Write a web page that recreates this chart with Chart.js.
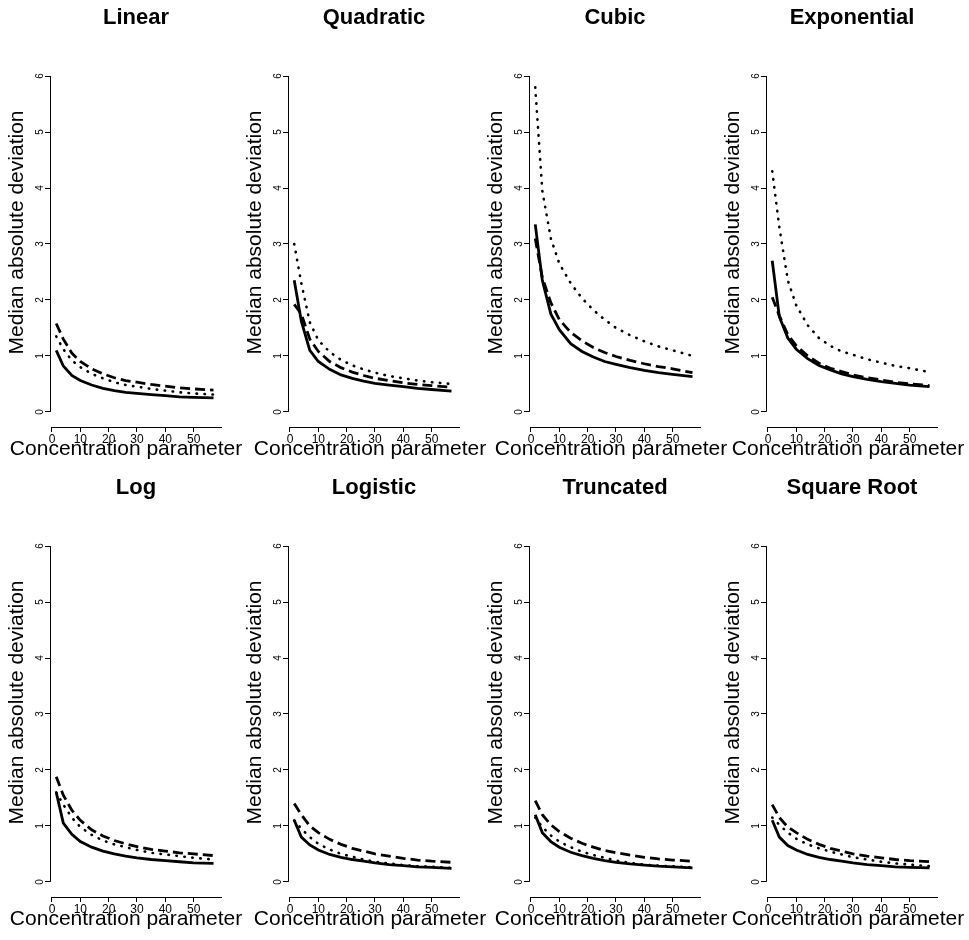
<!DOCTYPE html>
<html>
<head>
<meta charset="utf-8">
<script src="https://cdn.jsdelivr.net/npm/chart.js@4"></script>
<style>
  body { margin: 0; background: #fff; }
  #wrap { position: relative; width: 969px; height: 940px; overflow: hidden; }
  #wrap canvas { position: absolute; }
</style>
</head>
<body>
<div id="wrap"></div>
<script>
// concentration parameter values (x) shared by every curve
const concentration = [1.5, 4, 7, 10, 14, 18, 22, 26, 30, 35, 40, 45, 50, 57];
const xTickValues = [0, 10, 20, 30, 40, 50];
const yTickValues = [0, 1, 2, 3, 4, 5, 6];
const panelTitles = ["Linear", "Quadratic", "Cubic", "Exponential", "Log", "Logistic", "Truncated", "Square Root"];
const xAxisTitle = "Concentration parameter";
const yAxisTitle = "Median absolute deviation";

// median absolute deviation, one array per panel and line type
const linearSolid  = [1.10, 0.82, 0.65, 0.56, 0.48, 0.42, 0.38, 0.35, 0.33, 0.31, 0.29, 0.27, 0.26, 0.25];
const linearDashed = [1.58, 1.30, 1.05, 0.90, 0.77, 0.68, 0.61, 0.56, 0.53, 0.49, 0.46, 0.43, 0.41, 0.39];
const linearDotted = [1.35, 1.12, 0.92, 0.80, 0.68, 0.60, 0.53, 0.48, 0.45, 0.41, 0.38, 0.35, 0.33, 0.31];

const quadSolid  = [2.35, 1.62, 1.10, 0.90, 0.76, 0.66, 0.60, 0.55, 0.51, 0.48, 0.45, 0.42, 0.40, 0.37];
const quadDashed = [1.92, 1.75, 1.30, 1.08, 0.90, 0.79, 0.71, 0.65, 0.60, 0.56, 0.52, 0.49, 0.47, 0.44];
const quadDotted = [3.00, 2.30, 1.60, 1.28, 1.07, 0.93, 0.83, 0.76, 0.70, 0.64, 0.60, 0.56, 0.53, 0.50];

const cubicSolid  = [3.35, 2.35, 1.75, 1.47, 1.22, 1.08, 0.98, 0.90, 0.85, 0.79, 0.74, 0.70, 0.67, 0.63];
const cubicDashed = [3.10, 2.40, 1.95, 1.65, 1.42, 1.27, 1.15, 1.06, 0.99, 0.92, 0.86, 0.81, 0.77, 0.70];
const cubicDotted = [5.80, 3.95, 3.10, 2.65, 2.30, 2.03, 1.82, 1.65, 1.50, 1.37, 1.26, 1.17, 1.10, 1.00];

const expSolid  = [2.70, 1.70, 1.32, 1.12, 0.95, 0.83, 0.75, 0.68, 0.63, 0.58, 0.54, 0.51, 0.48, 0.45];
const expDashed = [2.05, 1.72, 1.38, 1.18, 1.00, 0.87, 0.78, 0.72, 0.66, 0.61, 0.57, 0.53, 0.50, 0.47];
const expDotted = [4.30, 3.30, 2.35, 1.90, 1.55, 1.32, 1.18, 1.08, 1.02, 0.94, 0.88, 0.82, 0.78, 0.71];

const logSolid  = [1.60, 1.05, 0.85, 0.72, 0.62, 0.55, 0.50, 0.46, 0.43, 0.40, 0.38, 0.36, 0.34, 0.33];
const logDashed = [1.88, 1.55, 1.28, 1.10, 0.93, 0.82, 0.74, 0.68, 0.63, 0.58, 0.55, 0.52, 0.50, 0.47];
const logDotted = [1.60, 1.38, 1.15, 0.98, 0.84, 0.74, 0.67, 0.62, 0.57, 0.52, 0.49, 0.46, 0.43, 0.40];

const logisticSolid  = [1.10, 0.80, 0.66, 0.57, 0.49, 0.44, 0.40, 0.37, 0.34, 0.31, 0.29, 0.27, 0.26, 0.24];
const logisticDashed = [1.40, 1.20, 1.00, 0.88, 0.76, 0.67, 0.60, 0.55, 0.50, 0.46, 0.42, 0.39, 0.37, 0.35];
const logisticDotted = [1.10, 0.95, 0.80, 0.68, 0.58, 0.50, 0.45, 0.40, 0.36, 0.33, 0.30, 0.28, 0.27, 0.25];

const truncSolid  = [1.20, 0.88, 0.72, 0.62, 0.53, 0.47, 0.42, 0.38, 0.35, 0.32, 0.30, 0.28, 0.27, 0.25];
const truncDashed = [1.45, 1.20, 1.02, 0.90, 0.78, 0.69, 0.62, 0.56, 0.52, 0.48, 0.44, 0.41, 0.39, 0.37];
const truncDotted = [1.15, 0.98, 0.83, 0.72, 0.62, 0.54, 0.48, 0.43, 0.38, 0.34, 0.31, 0.29, 0.28, 0.26];

const sqrtSolid  = [1.10, 0.80, 0.65, 0.57, 0.49, 0.44, 0.40, 0.37, 0.34, 0.31, 0.29, 0.27, 0.26, 0.25];
const sqrtDashed = [1.38, 1.15, 0.98, 0.88, 0.76, 0.67, 0.60, 0.55, 0.50, 0.46, 0.43, 0.40, 0.38, 0.36];
const sqrtDotted = [1.15, 1.02, 0.88, 0.77, 0.67, 0.60, 0.54, 0.49, 0.44, 0.40, 0.36, 0.33, 0.31, 0.28];

const solidSeries  = [linearSolid, quadSolid, cubicSolid, expSolid, logSolid, logisticSolid, truncSolid, sqrtSolid];
const dashedSeries = [linearDashed, quadDashed, cubicDashed, expDashed, logDashed, logisticDashed, truncDashed, sqrtDashed];
const dottedSeries = [linearDotted, quadDotted, cubicDotted, expDotted, logDotted, logisticDotted, truncDotted, sqrtDotted];

const X_MIN = -0.7, X_MAX = 60;
const colLeft = [0, 238, 479, 716];
const xTitleCenter = [126, 132, 132, 132];   // the label is wider than the plot, so drawn by hand
const FONT = "'Liberation Sans', Arial, Helvetica, sans-serif";

Chart.defaults.font.family = FONT;
Chart.defaults.color = "#000";

// R style axes: y line only over 0..6, x line from 0 to the right edge, plus the x label
const axisLines = {
    id: "axisLines",
    afterDraw(chart, args, opts) {
        const { ctx, chartArea } = chart;
        const x = chart.scales.x, y = chart.scales.y;
        const lx = Math.round(chartArea.left) + 0.5;
        const by = Math.round(chartArea.bottom) + 0.5;
        ctx.save();
        ctx.strokeStyle = "#000";
        ctx.lineWidth = 1;
        ctx.beginPath();
        ctx.moveTo(lx, y.getPixelForValue(yTickValues[0]));
        ctx.lineTo(lx, y.getPixelForValue(yTickValues[yTickValues.length - 1]));
        ctx.moveTo(x.getPixelForValue(xTickValues[0]), by);
        ctx.lineTo(x.getPixelForValue(X_MAX), by);
        ctx.stroke();

        ctx.fillStyle = "#000";
        ctx.font = "21px " + FONT;
        ctx.textAlign = "center";
        ctx.textBaseline = "alphabetic";
        ctx.fillText(xAxisTitle, opts.titleX, chartArea.bottom + 28);
        ctx.restore();
    }
};

function toPoints(values) {
    return concentration.map((c, k) => ({ x: c, y: values[k] }));
}

const wrap = document.getElementById("wrap");

panelTitles.forEach((title, i) => {
    const canvas = document.createElement("canvas");
    canvas.width = 262;
    canvas.height = 470;
    canvas.style.left = colLeft[i % 4] + "px";
    canvas.style.top = (Math.floor(i / 4) * 470) + "px";
    wrap.appendChild(canvas);

    new Chart(canvas.getContext("2d"), {
        type: "line",
        data: {
            datasets: [
                { label: "solid", data: toPoints(solidSeries[i]), borderColor: "#000", borderWidth: 2.8, pointRadius: 0, tension: 0, fill: false },
                { label: "dashed", data: toPoints(dashedSeries[i]), borderColor: "#000", borderWidth: 2.8, borderDash: [10, 5], pointRadius: 0, tension: 0, fill: false },
                { label: "dotted", data: toPoints(dottedSeries[i]), borderColor: "#000", borderWidth: 2.6, borderDash: [0.5, 7.5], borderCapStyle: "round", pointRadius: 0, tension: 0, fill: false }
            ]
        },
        options: {
            responsive: false,
            animation: false,
            devicePixelRatio: 1,
            layout: { padding: { left: 0, right: 40, top: 0, bottom: 0 } },
            plugins: {
                legend: { display: false },
                tooltip: { enabled: false },
                title: {
                    display: true,
                    text: title,
                    fullSize: false,
                    color: "#000",
                    font: { size: 22, weight: "bold", lineHeight: 1.2 },
                    padding: { top: 5, bottom: 6.6 }
                },
                axisLines: { titleX: xTitleCenter[i % 4] }
            },
            scales: {
                x: {
                    type: "linear",
                    min: X_MIN,
                    max: X_MAX,
                    afterFit: s => { s.height = 43; },
                    afterBuildTicks: s => { s.ticks = xTickValues.map(v => ({ value: v })); },
                    grid: { display: true, drawOnChartArea: false, drawTicks: true, tickLength: 5, color: "#000", lineWidth: 1 },
                    border: { display: false },
                    ticks: { autoSkip: false, maxRotation: 0, padding: 0, font: { size: 12 } },
                    title: { display: false }
                },
                y: {
                    min: -0.27,
                    max: 6.68,
                    afterFit: s => { s.width = 50; },
                    afterBuildTicks: s => { s.ticks = yTickValues.map(v => ({ value: v })); },
                    grid: { display: true, drawOnChartArea: false, drawTicks: true, tickLength: 5, color: "#000", lineWidth: 1 },
                    border: { display: false },
                    ticks: { autoSkip: false, minRotation: 90, maxRotation: 90, crossAlign: "center", padding: 2, font: { size: 10 } },
                    title: { display: true, text: yAxisTitle, font: { size: 21 }, padding: { top: 5, bottom: 0 } }
                }
            }
        },
        plugins: [axisLines]
    });
});
</script>
</body>
</html>
